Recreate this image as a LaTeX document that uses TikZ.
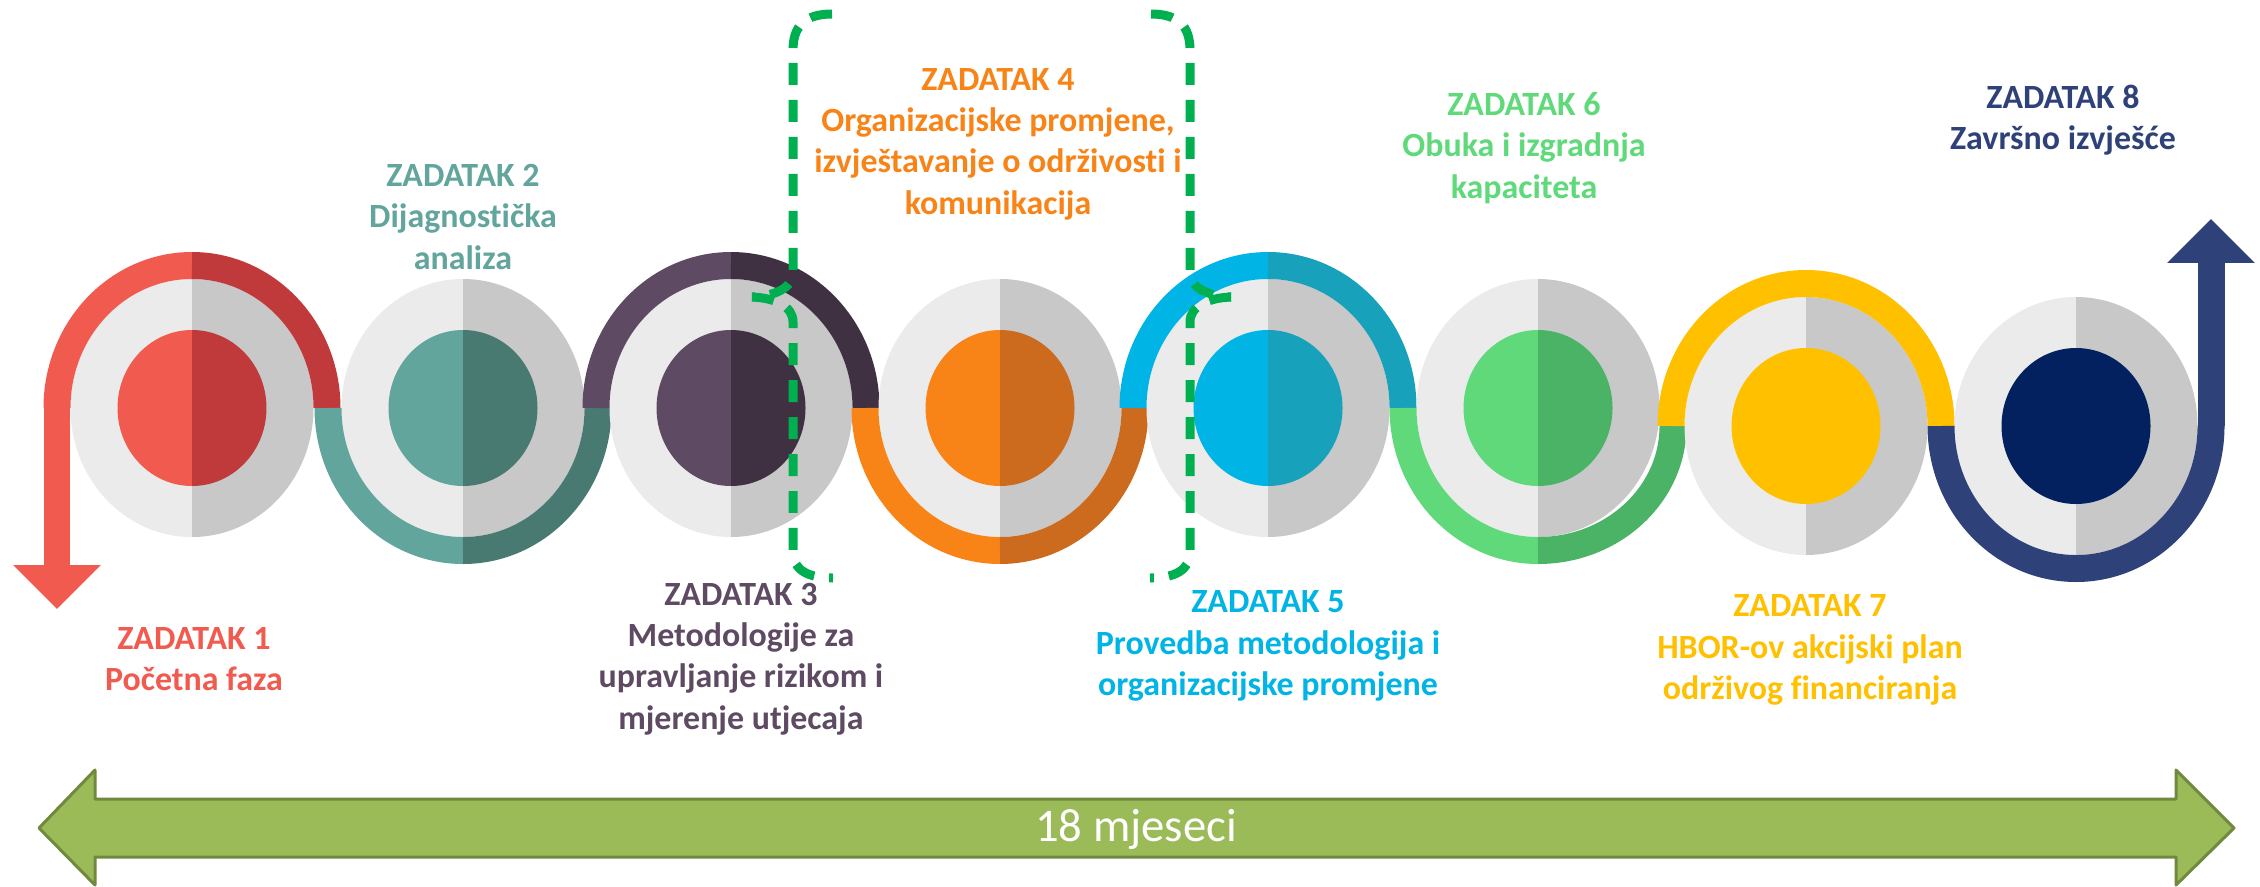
\documentclass[tikz,border=0pt]{standalone}
\usepackage{fontspec}
\setmainfont{Carlito}[Ligatures={NoCommon}]
\usepackage{tikz}
\usetikzlibrary{arrows.meta}
\definecolor{redL}{HTML}{F15A4F}
\definecolor{redD}{HTML}{C0393B}
\definecolor{tealL}{HTML}{62A59D}
\definecolor{tealD}{HTML}{487A72}
\definecolor{purL}{HTML}{5E4A62}
\definecolor{purD}{HTML}{3F3042}
\definecolor{oraL}{HTML}{F88417}
\definecolor{oraD}{HTML}{CC6A1E}
\definecolor{bluL}{HTML}{00B4E5}
\definecolor{bluD}{HTML}{18A1BA}
\definecolor{grnL}{HTML}{5FD97A}
\definecolor{grnD}{HTML}{4AB365}
\definecolor{yel}{HTML}{FFC000}
\definecolor{navy}{HTML}{2F4179}
\definecolor{navyD}{HTML}{02215E}
\definecolor{greyL}{HTML}{EBEBEB}
\definecolor{greyD}{HTML}{C8C8C8}
\definecolor{brkC}{HTML}{00B050}
\definecolor{monF}{HTML}{9BBB59}
\definecolor{monD}{HTML}{71893F}

\begin{document}
\begin{tikzpicture}[x=.02cm,y=.02cm,
	every node/.style={align=center,font=\fontsize{19.3}{23.5}\selectfont\bfseries},
	band/.style={line width=.54cm},
	arrowtip/.style={-{Triangle[length=.88cm,width=1.7cm]}},
	brk/.style={draw=brkC,line width=.18cm,dash pattern=on .44cm off .3cm},
	months/.style={fill=monF,draw=monD,line width=.06cm,line join=round}]
	\fill[white] (0,0) rectangle (2260,-886);
	\useasboundingbox (0,0) rectangle (2260,-886);
	
	\foreach \i/\x/\y/\yn/\fa/\fb/\ba/\bb/\side in {
		1/192/-408/-408/redL/redD/redL/redD/1,
		2/463/-408/-408/tealL/tealD/tealL/tealD/-1,
		3/731/-408/-408/purL/purD/purL/purD/1,
		4/1000/-408/-408/oraL/oraD/oraL/oraD/-1,
		5/1268/-408/-408/bluL/bluD/bluL/bluD/1,
		6/1538/-408/-426/grnL/grnD/grnL/grnD/-1,
		7/1806/-426/-426/yel/yel/yel/yel/1,
		8/2076/-426/-426/navyD/navyD/navy/navy/-1}{
		\pgfmathsetmacro{\angA}{180-90*\side}
		\pgfmathsetmacro{\angB}{180-180*\side}
		\pgfmathsetmacro{\ry}{142.5-\side*(\yn-\y)}
		\coordinate (c\i) at (\x,\y);
		\fill[greyL] (\x,{\y+129}) arc[start angle=90,end angle=270,x radius=121.5,y radius=129] -- cycle;
		\fill[greyD] (\x,{\y-129}) arc[start angle=-90,end angle=90,x radius=121.5,y radius=129] -- cycle;
		\fill[\fa] (\x,{\y+78}) arc[start angle=90,end angle=270,x radius=74.5,y radius=78] -- cycle;
		\fill[\fb] (\x,{\y-78}) arc[start angle=-90,end angle=90,x radius=74.5,y radius=78] -- cycle;
		\draw[band,\ba] ({\x-135},\y) arc[start angle=180,end angle=\angA,x radius=135,y radius=142.5];
		\draw[band,\bb] (\x,{\y+142.5*\side}) arc[start angle=\angA,end angle=\angB,x radius=135,y radius=\ry];
	}
	
	\coordinate (a0) at (57,-408);
	\coordinate (a1) at (57,-609);
	\coordinate (b0) at (2211,-426);
	\coordinate (b1) at (2211,-219);
	\draw[band,redL,arrowtip] (a0) -- (a1);
	\draw[band,navy,arrowtip] (b0) -- (b1);
	
	\draw[brk] (832,-14) .. controls (805,-14) and (793,-26) .. (793,-50) -- (793,-272) .. controls (793,-288) and (775,-296) .. (752,-297);
	\draw[brk] (752,-297) .. controls (775,-298) and (793,-306) .. (793,-322) -- (793,-552) .. controls (793,-570) and (808,-578) .. (833,-578);
	\draw[brk] (1151,-14) .. controls (1178,-14) and (1190,-26) .. (1190,-50) -- (1190,-272) .. controls (1190,-288) and (1208,-296) .. (1231,-297);
	\draw[brk] (1231,-297) .. controls (1208,-298) and (1190,-306) .. (1190,-322) -- (1190,-552) .. controls (1190,-570) and (1175,-578) .. (1150,-578);
	
	\node[text=redL] (t1) at (194,-659) {ZADATAK 1\\Početna faza};
	\node[text=tealL] (t2) at (463,-217) {ZADATAK 2\\Dijagnostička\\analiza};
	\node[text=purL] (t3) at (741,-659) {ZADATAK 3\\Metodologije za\\upravljanje rizikom i\\mjerenje utjecaja};
	\node[text=oraL] (t4) at (998,-144) {ZADATAK 4\\Organizacijske promjene,\\izvještavanje o održivosti i\\komunikacija};
	\node[text=bluL] (t5) at (1268,-646) {ZADATAK 5\\Provedba metodologija i\\organizacijske promjene};
	\node[text=grnL] (t6) at (1524,-148) {ZADATAK 6\\Obuka i izgradnja\\kapaciteta};
	\node[text=yel] (t7) at (1810,-650) {ZADATAK 7\\HBOR-ov akcijski plan\\održivog financiranja};
	\node[text=navy] (t8) at (2063,-120) {ZADATAK 8\\Završno izvješće};
	
	\draw[months] (39,-828) -- (95,-770) -- (95,-799) -- (2176,-799) -- (2176,-770) -- (2234,-828) -- (2176,-885) -- (2176,-857) -- (95,-857) -- (95,-885) -- cycle;
	\node[text=white,font=\fontsize{26.6}{30}\selectfont] (s) at (1136,-829) {18 mjeseci};
\end{tikzpicture}
\end{document}
